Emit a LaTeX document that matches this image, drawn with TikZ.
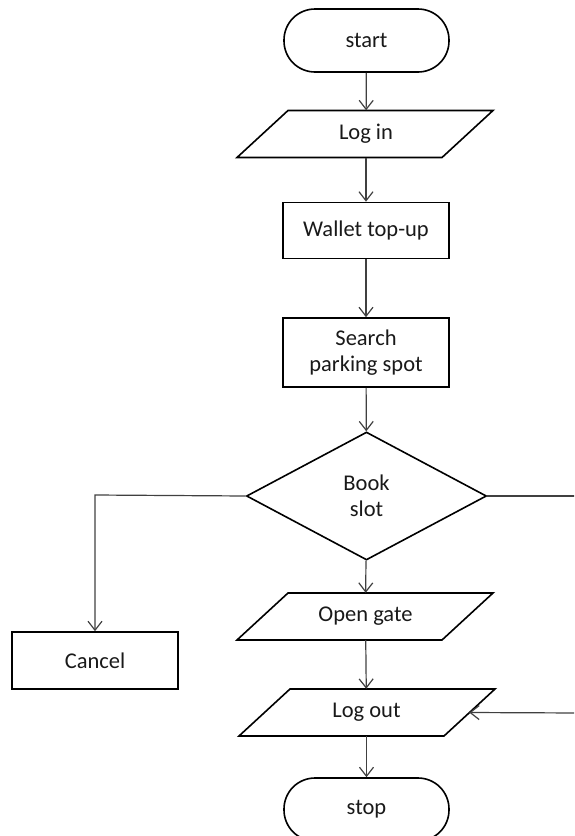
\documentclass[tikz,border=0pt]{standalone}
\usepackage{fontspec}
\setmainfont{Carlito}
\usetikzlibrary{shapes.geometric,arrows.meta}
\begin{document}
\begin{tikzpicture}[x=1pt,y=-1pt,
  every node/.style={font=\fontsize{22.5}{26.5}\selectfont, text=black!90},
  box/.style={draw=black, line width=1.6pt, minimum width=166pt, minimum height=56pt, inner sep=0pt, align=center},
  term/.style={draw=black, line width=1.6pt, minimum width=165pt, minimum height=63pt, inner sep=0pt, rounded corners=31pt},
  paratxt/.style={minimum width=205pt, minimum height=47pt, inner sep=0pt},
  paraline/.style={draw=black, line width=1.6pt, line join=miter},
  dec/.style={draw=black, line width=1.6pt, diamond, minimum width=240pt, minimum height=128pt, inner sep=0pt, align=center},
  conn/.style={draw=black!75, line width=1.2pt},
  arr/.style={conn, -{Straight Barb[length=9pt,width=14pt,line width=1.2pt]}}
]
\useasboundingbox (0,0) rectangle (574,836);
\clip (0,0) rectangle (574,836);

\node[term] (start) at (366.5,40.5) {start};
\node[paratxt] (login) at (366,134) {Log in};
\draw[paraline] (login.center) ++(-78,-23.5) -- ++(205,0) -- ++(-51,47) -- ++(-205,0) -- cycle;
\node[box] (wallet) at (366,230.5) {Wallet top-up};
\node[box, minimum height=69pt] (search) at (366,352.5) {Search\\parking spot};
\node[dec] (book) at (366.5,496) {Book\\slot};
\node[paratxt] (open) at (365.5,616.5) {Open gate};
\draw[paraline] (open.center) ++(-77.5,-23.5) -- ++(205,0) -- ++(-51,47) -- ++(-205,0) -- cycle;
\node[box, minimum width=166pt, minimum height=57pt] (cancel) at (95,660.5) {Cancel};
\node[paratxt] (logout) at (366.5,712.5) {Log out};
\draw[paraline] (logout.center) ++(-76.5,-23.5) -- ++(205,0) -- ++(-51,47) -- ++(-205,0) -- cycle;
\node[term] (stop) at (366.5,809.5) {stop};

\coordinate (lc) at (95,495);
\coordinate (re) at (580,496);
\coordinate (ri) at (580,713);

\draw[arr] (start) -- (login);
\draw[arr] (login) -- (wallet);
\draw[arr] (wallet) -- (search);
\draw[arr] (search) -- (book);
\draw[arr] (book) -- (open);
\draw[arr] (open) -- (logout);
\draw[arr] (logout) -- (stop);
\draw[arr] (book.west) -- (lc) -- (cancel.north);
\draw[conn] (book.east) -- (re);
\draw[arr] (ri) -- (logout.east);
\end{tikzpicture}
\end{document}
